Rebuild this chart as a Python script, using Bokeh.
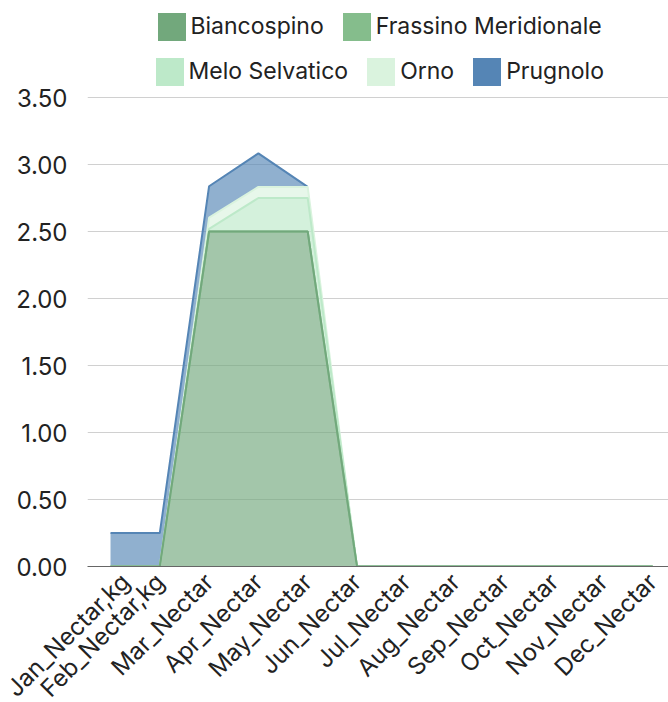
import numpy as np
from bokeh.plotting import figure
from bokeh.models import (Legend, LegendItem, FixedTicker, NumeralTickFormatter, Range1d)
from bokeh.embed import file_html
from bokeh.resources import INLINE

months = ["Jan_Nectar,kg", "Feb_Nectar,kg", "Mar_Nectar", "Apr_Nectar", "May_Nectar",
          "Jun_Nectar", "Jul_Nectar", "Aug_Nectar", "Sep_Nectar", "Oct_Nectar",
          "Nov_Nectar", "Dec_Nectar"]
series_names = ["Biancospino", "Frassino Meridionale", "Melo Selvatico", "Orno", "Prugnolo"]
biancospino = [0, 0, 2.5, 2.5, 2.5, 0, 0, 0, 0, 0, 0, 0]
frassino = [0, 0, 0, 0, 0, 0, 0, 0, 0, 0, 0, 0]
melo = [0, 0, 0.02, 0.25, 0.25, 0, 0, 0, 0, 0, 0, 0]
orno = [0, 0, 0.083, 0.083, 0.083, 0, 0, 0, 0, 0, 0, 0]
prugnolo = [0.25, 0.25, 0.235, 0.25, 0, None, None, None, None, None, None, None]
y_ticks = [0, 0.5, 1.0, 1.5, 2.0, 2.5, 3.0, 3.5]

colors = ["#72a87c", "#85bd8c", "#bde9c9", "#daf3de", "#5585b5"]
data = [biancospino, frassino, melo, orno, prugnolo]

FONT = "Inter"

# frame spans from the top of the figure so the legend can sit inside it;
# 3.5 lands 469 px above the baseline within a 566 px tall frame
y_top = 3.5 * 566 / 469

p = figure(frame_width=581, frame_height=566, output_backend="svg", toolbar_location=None,
           x_range=Range1d(-0.467, 11.32), y_range=Range1d(0, y_top),
           min_border_left=87, min_border_right=0, min_border_top=0,
           min_border_bottom=0)
p.outline_line_color = None
p.background_fill_color = "white"

x = list(range(len(months)))
base = np.zeros(len(months))
tops = []
legend_renderers = []
for name, vals, c in zip(series_names, data, colors):
    arr = np.array([np.nan if v is None else v for v in vals], dtype=float)
    top = base + np.nan_to_num(arr)
    p.varea(x=x, y1=list(base), y2=list(top), fill_color=c, fill_alpha=0.65)
    line_top = np.where(np.isnan(arr), np.nan, top)
    tops.append(line_top)
    r = p.varea(x=x, y1=list(base), y2=list(top), fill_color=c, fill_alpha=1.0,
                visible=False)
    legend_renderers.append(r)
    base = top

for line_top, c in reversed(list(zip(tops, colors))):
    p.line(x=x, y=list(line_top), line_color=c, line_width=2)

# axes
p.xaxis.ticker = FixedTicker(ticks=x)
p.xaxis.major_label_overrides = {i: m for i, m in enumerate(months)}
p.xaxis.major_label_orientation = np.pi / 4
p.xaxis.major_tick_line_color = None
p.xaxis.major_tick_out = 0
p.xaxis.major_tick_in = 0
p.xaxis.minor_tick_line_color = None
p.xaxis.minor_tick_out = 0
p.xaxis.axis_line_color = "#666666"
p.xaxis.major_label_text_font = FONT
p.xaxis.major_label_text_font_size = "24px"
p.xaxis.major_label_text_color = "#222222"
p.xaxis.major_label_standoff = 11

p.yaxis.ticker = FixedTicker(ticks=y_ticks)
p.yaxis.formatter = NumeralTickFormatter(format="0.00")
p.yaxis.major_tick_line_color = None
p.yaxis.major_tick_out = 0
p.yaxis.minor_tick_line_color = None
p.yaxis.axis_line_color = None
p.yaxis.major_label_text_font = FONT
p.yaxis.major_label_text_font_size = "24px"
p.yaxis.major_label_text_color = "#222222"
p.yaxis.major_label_standoff = 20

p.xgrid.grid_line_color = None
p.ygrid.grid_line_color = "#d0d0d0"
p.ygrid.grid_line_width = 1

def make_legend(idx, loc):
    items = [LegendItem(label=series_names[i], renderers=[legend_renderers[i]]) for i in idx]
    lg = Legend(items=items, orientation="horizontal", location=loc)
    lg.padding = 0
    lg.margin = 0
    lg.spacing = 15
    lg.glyph_width = 35
    lg.glyph_height = 35
    lg.label_height = 28
    lg.label_standoff = 2
    lg.label_text_font = FONT
    lg.label_text_font_size = "23px"
    lg.label_text_color = "#222222"
    lg.border_line_color = None
    lg.background_fill_alpha = 0
    lg.inactive_fill_alpha = 0
    lg.click_policy = "none"
    return lg

p.add_layout(make_legend([0, 1], (66.5, 522.5)), "center")
p.add_layout(make_legend([2, 3, 4], (64.5, 477.5)), "center")

open("out.html", "w").write(file_html(p, INLINE))
